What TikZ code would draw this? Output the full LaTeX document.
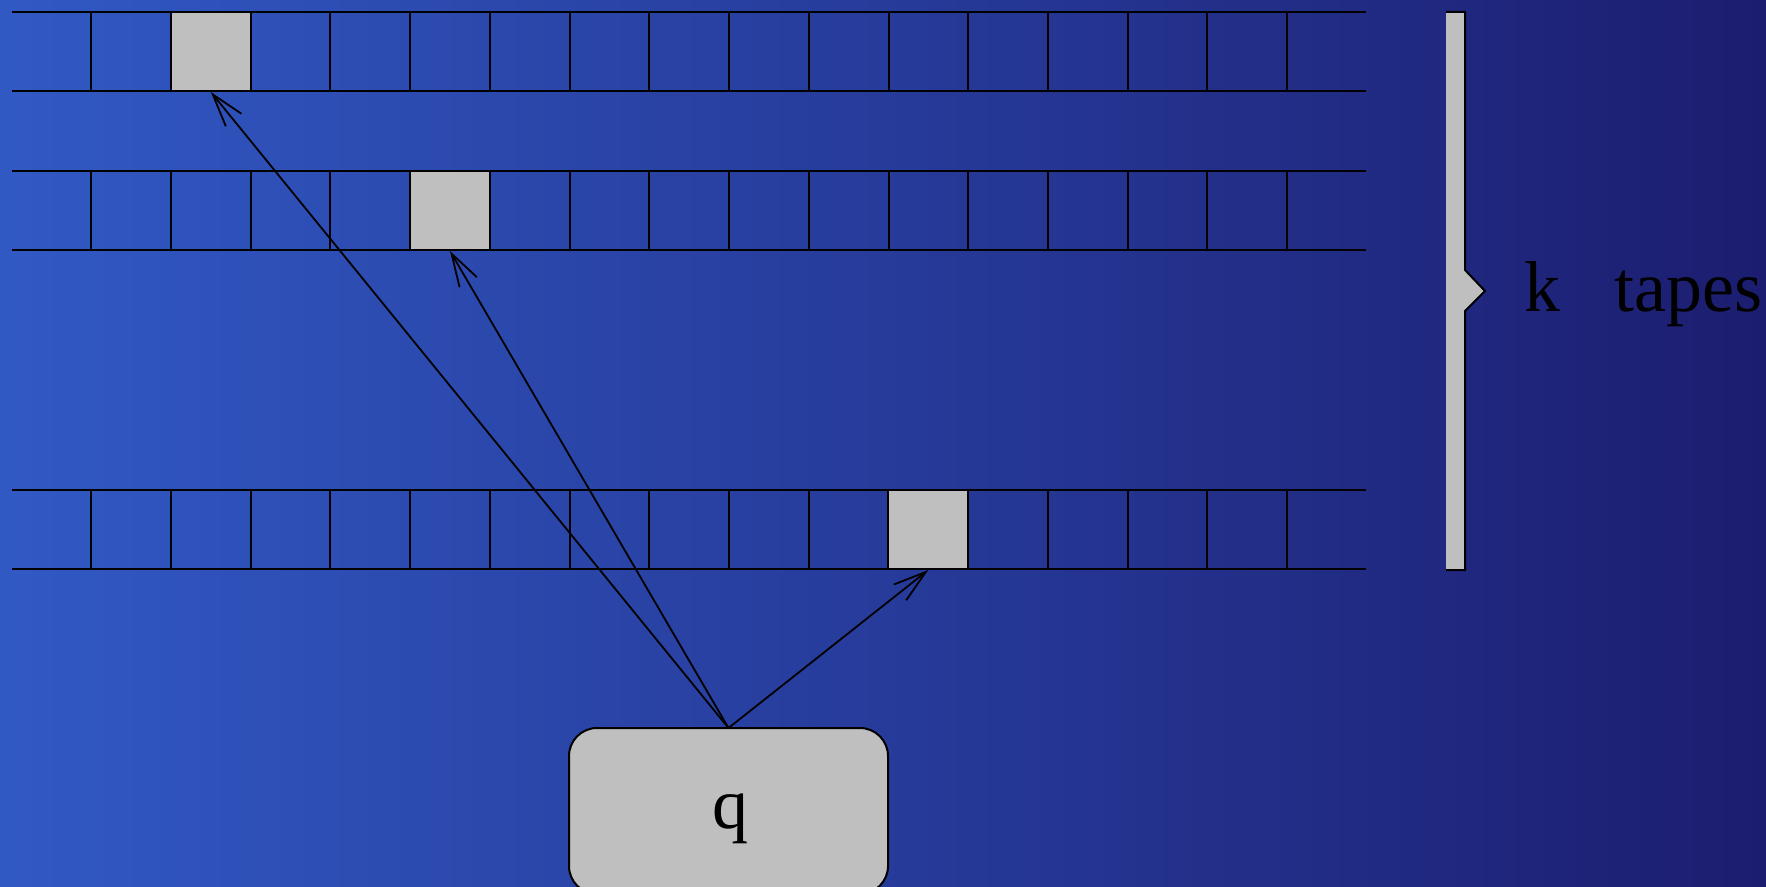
\documentclass[tikz,border=0pt]{standalone}
\usepackage{fontspec}
\setmainfont{Liberation Serif}
\usetikzlibrary{arrows.meta}
\definecolor{bgL}{RGB}{49,89,196}
\definecolor{bgR}{RGB}{28,29,112}
\definecolor{hl}{RGB}{191,191,191}
\tikzset{
  tapeline/.style={line width=1pt, black},
  headcell/.style={draw=black, line width=1pt, fill=hl, inner sep=0pt, minimum width=39.86pt, minimum height=39.5pt},
  ctrl/.style={draw=black, line width=1pt, fill=hl, rounded corners=14pt},
  headarrow/.style={line width=0.9pt, -{Straight Barb[length=16.5pt,width=10pt,line width=0.9pt]}},
  bigtext/.style={font=\fontsize{36}{40}\selectfont, inner sep=0pt}
}
\begin{document}
\begin{tikzpicture}[x=0.5pt,y=-0.5pt]
\shade[left color=bgL, right color=bgR] (0,0) rectangle (1766,887);
\useasboundingbox (0,0) rectangle (1766,887);
% tapes
\foreach \t in {12,171,490}{
  \draw[tapeline] (12,\t) -- (1366,\t);
  \draw[tapeline] (12,\t+79) -- (1366,\t+79);
  \foreach \k in {0,...,15}{
    \draw[tapeline] (91.2+79.73*\k,\t) -- (91.2+79.73*\k,\t+79);
  }
}
% head cells
\node[headcell] (h1) at (210.8,51.5) {};
\node[headcell] (h2) at (450.0,210.5) {};
\node[headcell] (h3) at (928.3,529.5) {};
% control box
\draw[ctrl] (569,728) rectangle (888,894);
\node[bigtext, anchor=base] (q) at (730,828) {q};
\coordinate (qtop) at (728.5,728);
% arrows
\draw[headarrow] (qtop) -- (h1.south);
\draw[headarrow] (qtop) -- (h2.south);
\draw[headarrow] (qtop) -- (h3.south);
% brace
\fill[hl] (1446,12) -- (1465,12) -- (1465,270) -- (1485,291) -- (1465,311) -- (1465,570) -- (1446,570) -- cycle;
\draw[line width=1pt, line join=miter] (1446,12) -- (1465,12) -- (1465,270) -- (1485,291) -- (1465,311) -- (1465,570) -- (1446,570);
\node[bigtext, anchor=base west] (lbl) at (1524,312) {k\hspace{27pt}tapes};
\end{tikzpicture}
\end{document}
